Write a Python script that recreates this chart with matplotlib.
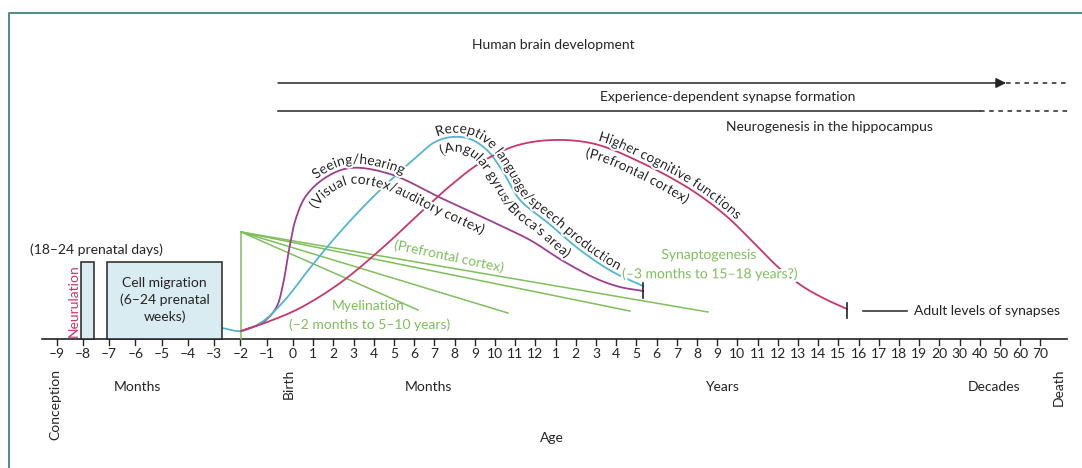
import numpy as np
import matplotlib
matplotlib.use('Agg')
import matplotlib.pyplot as plt
from matplotlib.patches import Rectangle
from matplotlib.lines import Line2D
from matplotlib.font_manager import FontProperties, findfont, get_font
import matplotlib.patheffects as pe

plt.rcParams['font.family'] = ['Lato', 'DejaVu Sans']

# --- age axis -------------------------------------------------------------
prenatal_months = [-9, -8, -7, -6, -5, -4, -3, -2, -1]
postnatal_months = list(range(0, 13))
years = list(range(1, 21))
decades = [30, 40, 50, 60, 70]

# curves: x in axis slots (birth = 0, one slot per postnatal tick), y = level
seeing_x = [-2.57, -1.54, -0.84, -0.5, -0.2, 0.15, 0.64, 1.58, 2.82, 4.8, 7.43, 9.9,
            11.73, 13.37, 15.05, 16.19, 17.33]
seeing_y = [8, 16, 31, 54, 89, 121, 143, 161, 171, 165, 140, 117, 99, 78, 60, 52, 48]

language_x = [-3.52, -2.57, -1.54, -0.4, 0.84, 2.33, 3.96, 5.94, 7.03, 7.87, 8.76, 9.6,
              10.4, 11.24, 12.57, 14.21, 15.84, 17.33]
language_y = [11, 8, 17, 39, 71, 107, 142, 179, 197, 202, 200, 189, 167, 139, 117, 89, 67, 53]

cognitive_x = [-2.57, -1.14, 0.35, 2.33, 4.31, 6.29, 7.77, 9.26, 10.99, 12.87, 14.95,
               17.18, 19.65, 21.39, 22.87, 24.01, 25.2, 26.34, 27.43]
cognitive_y = [8, 18, 31, 56, 89, 126, 153, 176, 193, 199, 195, 177, 150, 124, 95, 72,
               53, 40, 30]

# synaptogenesis / myelination fan (origin and end points)
fan_origin = (-2.57, 107)
fan_end_x = [6.19, 10.64, 16.68, 20.54]
fan_end_y = [29, 26, 28, 27]

# prenatal boxes (x0, x1, height)
neurulation_box = (-10.5, -9.85, 77)
migration_box = (-9.21, -3.51, 77)

# long process lines (start, solid end, dashed end, level)
synapse_line = (-0.74, 35.3, 38.37, 256)
neuro_line = (-0.74, 34.0, 38.37, 228)

DARK = '#242424'
GREEN = '#7fbf5c'
PURPLE = '#9c3f8f'
BLUE = '#52b6d0'
RED = '#c8376b'
FS = 10

W, H = 1082, 468
fig = plt.figure(figsize=(W / 100, H / 100), dpi=100)
ax = fig.add_axes([0, 0, 1, 1])
slot = 20.2
ax.set_xlim(-293 / slot, (W - 293) / slot)
ax.set_ylim(339 - H, 339)
ax.axis('off')

# frame (top + left only, image is cropped)
fig.add_artist(Line2D([9 / W, 9 / W, 1], [0, 1 - 13 / H, 1 - 13 / H],
                      transform=fig.transFigure, color='#4f8c86', lw=1.4))


def tick_positions():
    pos, lab = [], []
    for m in prenatal_months:
        pos.append(1.3 * m); lab.append(str(m).replace('-', '–'))
    for m in postnatal_months:
        pos.append(m); lab.append(str(m))
    for y in years:
        pos.append(12 + y); lab.append(str(y))
    for d in decades:
        pos.append(32 + (d - 20) / 10); lab.append(str(d))
    return pos, lab


ax.plot([-12.43, 38.32], [0, 0], color=DARK, lw=1.2)
for p, l in zip(*tick_positions()):
    ax.plot([p, p], [0, -6], color=DARK, lw=1)
    ax.text(p, -15, l, ha='center', va='center', fontsize=FS, color=DARK)

for x, s in [(-11.75, 'Conception'), (-0.2, 'Birth'), (37.9, 'Death')]:
    ax.text(x, -30, s, rotation=90, ha='center', va='top', fontsize=FS, color=DARK)
for x, s in [(-7.7, 'Months'), (6.7, 'Months'), (21.25, 'Years'), (34.7, 'Decades')]:
    ax.text(x, -48, s, ha='center', va='center', fontsize=FS, color=DARK)
ax.text(12.8, -99, 'Age', ha='center', va='center', fontsize=FS, color=DARK)

# prenatal boxes
for x0, x1, h in (neurulation_box, migration_box):
    ax.add_patch(Rectangle((x0, 0), x1 - x0, h, facecolor='#d8ecf2',
                           edgecolor=DARK, lw=1.1, zorder=3))
ax.text(-10.84, 38, 'Neurulation', rotation=90, ha='center', va='center',
        fontsize=FS, color=RED)
ax.text(-13.02, 89, '(18–24 prenatal days)', ha='left', va='center',
        fontsize=FS, color=DARK)
ax.text(-6.36, 39, 'Cell migration\n(6–24 prenatal\nweeks)', ha='center', va='center',
        fontsize=FS, color=DARK, linespacing=1.45, zorder=4)

# top process lines
ax.text(12.87, 294, 'Human brain development', ha='center', va='center',
        fontsize=FS, color=DARK)
x0, x1, x2, y = synapse_line
ax.annotate('', xy=(x1, y), xytext=(x0, y),
            arrowprops=dict(arrowstyle='-|>', color=DARK, lw=1.1, mutation_scale=15,
                            shrinkA=0, shrinkB=0))
ax.plot([x1, x2], [y, y], color=DARK, lw=1.1, ls=(0, (3, 3)))
ax.text(21.53, 242, 'Experience-dependent synapse formation', ha='center',
        va='center', fontsize=FS, color=DARK)
x0, x1, x2, y = neuro_line
ax.plot([x0, x1], [y, y], color=DARK, lw=1.1)
ax.plot([x1, x2], [y, y], color=DARK, lw=1.1, ls=(0, (3, 3)))
ax.text(26.58, 212, 'Neurogenesis in the hippocampus', ha='center', va='center',
        fontsize=FS, color=DARK)

# green fan
ox, oy = fan_origin
ax.plot([ox, ox], [0, oy], color=GREEN, lw=1.1, zorder=2)
for ex, ey in zip(fan_end_x, fan_end_y):
    ax.plot([ox, ex], [oy, ey], color=GREEN, lw=1.1, zorder=2)

halo = [pe.withStroke(linewidth=3, foreground='white')]


def smooth(xs, ys, n=24, alpha=0.5):
    # centripetal Catmull-Rom through the read points
    P = np.column_stack([xs, ys]).astype(float)
    P = np.vstack([2 * P[0] - P[1], P, 2 * P[-1] - P[-2]])
    out = []
    for i in range(1, len(P) - 2):
        p0, p1, p2, p3 = P[i - 1:i + 3]
        t0 = 0.0
        t1 = t0 + np.linalg.norm(p1 - p0) ** alpha
        t2 = t1 + np.linalg.norm(p2 - p1) ** alpha
        t3 = t2 + np.linalg.norm(p3 - p2) ** alpha
        t = np.linspace(t1, t2, n, endpoint=False)[:, None]
        a1 = (t1 - t) / (t1 - t0) * p0 + (t - t0) / (t1 - t0) * p1
        a2 = (t2 - t) / (t2 - t1) * p1 + (t - t1) / (t2 - t1) * p2
        a3 = (t3 - t) / (t3 - t2) * p2 + (t - t2) / (t3 - t2) * p3
        b1 = (t2 - t) / (t2 - t0) * a1 + (t - t0) / (t2 - t0) * a2
        b2 = (t3 - t) / (t3 - t1) * a2 + (t - t1) / (t3 - t1) * a3
        out.append((t2 - t) / (t2 - t1) * b1 + (t - t1) / (t2 - t1) * b2)
    out.append(P[-2][None])
    return np.vstack(out)


def draw_curve(xs, ys, color):
    disp = ax.transData.transform(np.column_stack([xs, ys]))
    dense = smooth(disp[:, 0], disp[:, 1])
    data = ax.transData.inverted().transform(dense)
    ax.plot(data[:, 0], data[:, 1], color=color, lw=1.3, zorder=2)
    return dense


font = get_font(findfont(FontProperties(family='Lato')))


def curve_text(dense, text, start_x, offset, fs=FS, color=DARK):
    px, py = dense[:, 0], dense[:, 1]
    tx, ty = np.gradient(px), np.gradient(py)
    norm = np.hypot(tx, ty)
    tx, ty = tx / norm, ty / norm
    ang = np.unwrap(np.arctan2(ty, tx))
    qx, qy = px - offset * ty, py + offset * tx
    arc = np.concatenate([[0], np.cumsum(np.hypot(np.diff(qx), np.diff(qy)))])
    i0 = np.searchsorted(px, ax.transData.transform((start_x, 0))[0])
    s = arc[min(i0, len(arc) - 1)]
    font.set_size(fs, 100)
    inv = ax.transData.inverted()
    for c in text:
        a = font.load_char(ord(c)).linearHoriAdvance / 65536
        sc = s + a / 2
        X, Y = np.interp(sc, arc, qx), np.interp(sc, arc, qy)
        th = np.degrees(np.interp(sc, arc, ang))
        d = inv.transform((X, Y))
        ax.text(d[0], d[1], c, rotation=th, rotation_mode='anchor', ha='center',
                va='baseline', fontsize=fs, color=color, zorder=4, path_effects=halo)
        s += a


seeing = draw_curve(seeing_x, seeing_y, PURPLE)
language = draw_curve(language_x, language_y, BLUE)
cognitive = draw_curve(cognitive_x, cognitive_y, RED)

curve_text(seeing, 'Seeing/hearing', 1.25, 4)
curve_text(seeing, '(Visual cortex/auditory cortex)', 0.45, -16)
curve_text(language, 'Receptive language/speech production', 7.2, 4)
curve_text(language, "(Angular gyrus/Broca's area)", 7.0, -15)
curve_text(cognitive, 'Higher cognitive functions', 15.0, 4)
curve_text(cognitive, '(Prefrontal cortex)', 14.6, -15)

# end bars
ax.plot([17.33, 17.33], [41, 56], color=DARK, lw=1.2)
ax.plot([27.43, 27.43], [21, 36], color=DARK, lw=1.2)
ax.plot([28.22, 30.4], [28, 28], color=DARK, lw=1.1)
ax.text(30.74, 28, 'Adult levels of synapses', ha='left', va='center', fontsize=FS, color=DARK)

# green labels
ax.text(7.72, 83, '(Prefrontal cortex)', rotation=-12, ha='center', va='center',
        fontsize=FS, color=GREEN, rotation_mode='anchor', zorder=4)
ax.text(3.71, 33, 'Myelination', ha='center', va='center', fontsize=FS, color=GREEN, zorder=4)
ax.text(3.81, 14, '(–2 months to 5–10 years)', ha='center', va='center',
        fontsize=FS, color=GREEN, zorder=4)
ax.text(20.59, 84, 'Synaptogenesis', ha='center', va='center', fontsize=FS,
        color=GREEN, zorder=4, path_effects=halo)
ax.text(20.64, 65, '(–3 months to 15–18 years?)', ha='center', va='center',
        fontsize=FS, color=GREEN, zorder=4, path_effects=halo)

fig.savefig('out.png', dpi=100, facecolor='white')
